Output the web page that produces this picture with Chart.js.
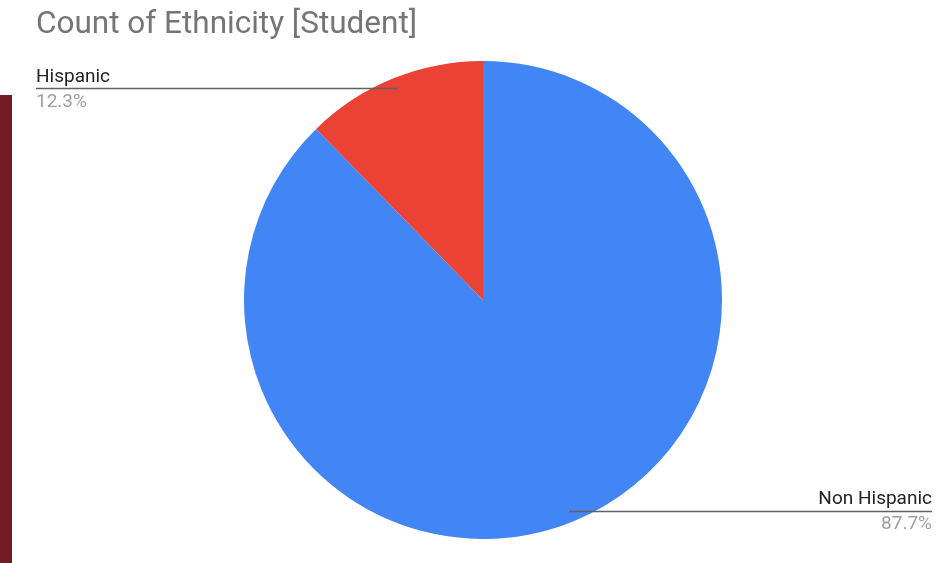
<!DOCTYPE html>
<html>
<head>
<meta charset="utf-8">
<script src="https://cdn.jsdelivr.net/npm/chart.js@4"></script>
<style>
  html, body { margin: 0; padding: 0; background: #ffffff; }
  #wrap { position: relative; width: 937px; height: 563px; overflow: hidden; }
  #sidebar { position: absolute; left: 0; top: 95px; width: 12px; height: 468px; background: #701c22; }
  canvas { position: absolute; left: 0; top: 0; }
</style>
</head>
<body>
<div id="wrap">
  <canvas id="ethChart" width="937" height="563"></canvas>
  <div id="sidebar"></div>
</div>
<script>
const chartTitle = 'Count of Ethnicity [Student]';
const categories = ['Non Hispanic', 'Hispanic'];
const shares = [87.7, 12.3];
const sliceColors = ['#4285f4', '#ea4335'];

// leader lines + two-line labels, google-sheets style
const sliceLabels = {
    id: 'sliceLabels',
    afterDraw(chart) {
        const ctx = chart.ctx;
        const meta = chart.getDatasetMeta(0);
        const total = shares.reduce((a, b) => a + b, 0);

        ctx.save();
        ctx.font = '31.5px Roboto';
        ctx.fillStyle = '#757575';
        ctx.textAlign = 'left';
        ctx.textBaseline = 'alphabetic';
        ctx.fillText(chartTitle, 36, 33);

        meta.data.forEach((arc, i) => {
            const mid = (arc.startAngle + arc.endAngle) / 2;
            const r = arc.outerRadius * 0.955;
            const px = arc.x + Math.cos(mid) * r;
            const py = arc.y + Math.sin(mid) * r;
            const left = Math.cos(mid) < 0;
            const edge = left ? 36 : 932;

            ctx.strokeStyle = '#616161';
            ctx.lineWidth = 1.5;
            ctx.beginPath();
            ctx.moveTo(px, py);
            ctx.lineTo(edge, py);
            ctx.stroke();

            ctx.textAlign = left ? 'left' : 'right';
            ctx.font = '19px Roboto';
            ctx.fillStyle = '#222222';
            ctx.fillText(categories[i], edge, py - 7);
            ctx.fillStyle = '#9e9e9e';
            ctx.fillText((shares[i] / total * 100).toFixed(1) + '%', edge, py + 18);
        });
        ctx.restore();
    }
};

new Chart(document.getElementById('ethChart'), {
    type: 'pie',
    data: {
        labels: categories,
        datasets: [{
            data: shares,
            backgroundColor: sliceColors,
            borderWidth: 0
        }]
    },
    options: {
        responsive: false,
        animation: false,
        layout: {
            padding: { top: 61, bottom: 24, left: 244, right: 215 }
        },
        plugins: {
            legend: { display: false },
            tooltip: { enabled: false }
        }
    },
    plugins: [sliceLabels]
});
</script>
</body>
</html>
